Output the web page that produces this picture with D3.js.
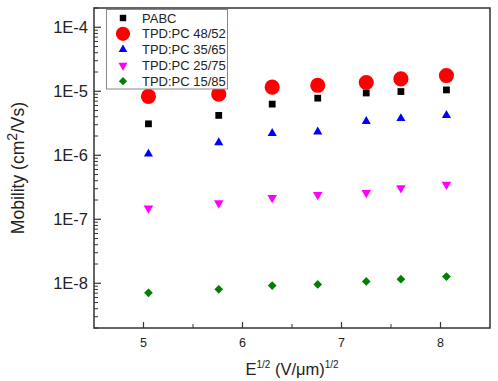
<!DOCTYPE html>
<html>
<head>
<meta charset="utf-8">
<script src="https://cdn.jsdelivr.net/npm/d3@7"></script>
<style>
  body { margin: 0; background: #fff; }
  svg { display: block; font-family: "Liberation Sans", Arial, sans-serif; }
</style>
</head>
<body>
<div id="chart"></div>
<script>
// sqrt of field, (V/um)^1/2
const fieldSqrt = [5.05, 5.76, 6.30, 6.76, 7.25, 7.60, 8.06];

// mobility values, cm2/Vs
const pabc    = [3.1e-6, 4.2e-6, 6.3e-6, 7.8e-6, 9.4e-6, 9.9e-6, 1.05e-5];
const tpd4852 = [8.3e-6, 9.0e-6, 1.16e-5, 1.24e-5, 1.37e-5, 1.56e-5, 1.76e-5];
const tpd3565 = [1.05e-6, 1.58e-6, 2.2e-6, 2.33e-6, 3.4e-6, 3.76e-6, 4.2e-6];
const tpd2575 = [1.49e-7, 1.79e-7, 2.17e-7, 2.42e-7, 2.6e-7, 3.08e-7, 3.5e-7];
const tpd1585 = [7.1e-9, 8.05e-9, 9.2e-9, 9.6e-9, 1.07e-8, 1.16e-8, 1.27e-8];

const seriesNames = ['PABC', 'TPD:PC 48/52', 'TPD:PC 35/65', 'TPD:PC 25/75', 'TPD:PC 15/85'];
const xTicks = [5, 6, 7, 8];
const yTicks = [1e-8, 1e-7, 1e-6, 1e-5, 1e-4];
const yTickLabels = ['1E-8', '1E-7', '1E-6', '1E-5', '1E-4'];

const w = 498, h = 381;
const m = {left: 94, top: 8, right: 8, bottom: 53};

const series = [
  {name: seriesNames[0], values: pabc,    color: '#000000', shape: d3.symbolSquare,   size: 46,  rot: 0},
  {name: seriesNames[1], values: tpd4852, color: '#ff0000', shape: d3.symbolCircle,   size: 180, rot: 0},
  {name: seriesNames[2], values: tpd3565, color: '#0000ff', shape: d3.symbolTriangle, size: 36,  rot: 0},
  {name: seriesNames[3], values: tpd2575, color: '#ff00ff', shape: d3.symbolTriangle, size: 40,  rot: 180},
  {name: seriesNames[4], values: tpd1585, color: '#008000', shape: d3.symbolSquare,   size: 38,  rot: 45}
];

const svg = d3.select('#chart').append('svg')
  .attr('width', w)
  .attr('height', h);

const x = d3.scaleLinear().domain([4.5, 8.5]).range([m.left, w - m.right]);
const y = d3.scaleLog().domain([2e-9, 2e-4]).range([h - m.bottom, m.top]);

const axisColor = '#333';

// minor ticks
const yMinor = [];
for (let e = -9; e <= -4; e++) {
  for (let k = 2; k <= 9; k++) {
    const v = k * Math.pow(10, e);
    if (v >= 2e-9 && v <= 2e-4) yMinor.push(v);
  }
}
const xMinor = [5.5, 6.5, 7.5];

const gy = svg.append('g');
gy.selectAll('line.minor').data(yMinor).enter().append('line')
  .attr('x1', m.left).attr('x2', m.left + 4)
  .attr('y1', d => y(d)).attr('y2', d => y(d))
  .attr('stroke', axisColor).attr('stroke-width', 1);
gy.selectAll('line.major').data(yTicks).enter().append('line')
  .attr('x1', m.left).attr('x2', m.left + 7)
  .attr('y1', d => y(d)).attr('y2', d => y(d))
  .attr('stroke', axisColor).attr('stroke-width', 1.2);
gy.selectAll('text').data(yTicks).enter().append('text')
  .attr('x', m.left - 6)
  .attr('y', d => y(d))
  .attr('dy', '0.36em')
  .attr('text-anchor', 'end')
  .attr('font-size', 16.5)
  .attr('fill', '#222')
  .text((d, i) => yTickLabels[i]);

const gx = svg.append('g');
gx.selectAll('line.minor').data(xMinor).enter().append('line')
  .attr('x1', d => x(d)).attr('x2', d => x(d))
  .attr('y1', h - m.bottom).attr('y2', h - m.bottom - 4)
  .attr('stroke', axisColor).attr('stroke-width', 1);
gx.selectAll('line.major').data(xTicks).enter().append('line')
  .attr('x1', d => x(d)).attr('x2', d => x(d))
  .attr('y1', h - m.bottom).attr('y2', h - m.bottom - 6)
  .attr('stroke', axisColor).attr('stroke-width', 1.2);
gx.selectAll('text').data(xTicks).enter().append('text')
  .attr('x', d => x(d))
  .attr('y', h - m.bottom + 19)
  .attr('text-anchor', 'middle')
  .attr('font-size', 12.5)
  .attr('fill', '#222')
  .text(d => d);

// frame
svg.append('rect')
  .attr('x', m.left).attr('y', m.top)
  .attr('width', w - m.left - m.right)
  .attr('height', h - m.top - m.bottom)
  .attr('fill', 'none')
  .attr('stroke', axisColor)
  .attr('stroke-width', 1.5);

// points
series.forEach(s => {
  const sym = d3.symbol().type(s.shape).size(s.size);
  svg.append('g').selectAll('path')
    .data(s.values)
    .enter()
    .append('path')
    .attr('d', sym)
    .attr('transform', (d, i) => `translate(${x(fieldSqrt[i])},${y(d)}) rotate(${s.rot})`)
    .attr('fill', s.color);
});

// legend
const legend = svg.append('g');
legend.append('rect')
  .attr('x', 106.5).attr('y', 9.5)
  .attr('width', 121).attr('height', 79.5)
  .attr('fill', '#fff')
  .attr('stroke', '#888')
  .attr('stroke-width', 1);
series.forEach((s, i) => {
  const ly = 18 + i * 15.8;
  legend.append('path')
    .attr('d', d3.symbol().type(s.shape).size(i === 1 ? 160 : s.size * 0.9))
    .attr('transform', `translate(123,${ly}) rotate(${s.rot})`)
    .attr('fill', s.color);
  legend.append('text')
    .attr('x', 142)
    .attr('y', ly)
    .attr('dy', '0.36em')
    .attr('font-size', 13)
    .attr('fill', '#222')
    .text(s.name);
});

// axis titles
const yt = svg.append('text')
  .attr('transform', `translate(24,${(m.top + h - m.bottom) / 2}) rotate(-90)`)
  .attr('text-anchor', 'middle')
  .attr('font-size', 17.5)
  .attr('fill', '#222');
yt.append('tspan').text('Mobility (cm');
yt.append('tspan').attr('dy', -7).attr('font-size', 14).text('2');
yt.append('tspan').attr('dy', 7).text('/Vs)');

const xt = svg.append('text')
  .attr('x', (m.left + w - m.right) / 2)
  .attr('y', 375)
  .attr('text-anchor', 'middle')
  .attr('font-size', 16.5)
  .attr('fill', '#222');
xt.append('tspan').text('E');
xt.append('tspan').attr('dy', -7).attr('font-size', 10).text('1/2');
xt.append('tspan').attr('dy', 7).text(' (V/\u03bcm)');
xt.append('tspan').attr('dy', -7).attr('font-size', 10).text('1/2');
</script>
</body>
</html>
